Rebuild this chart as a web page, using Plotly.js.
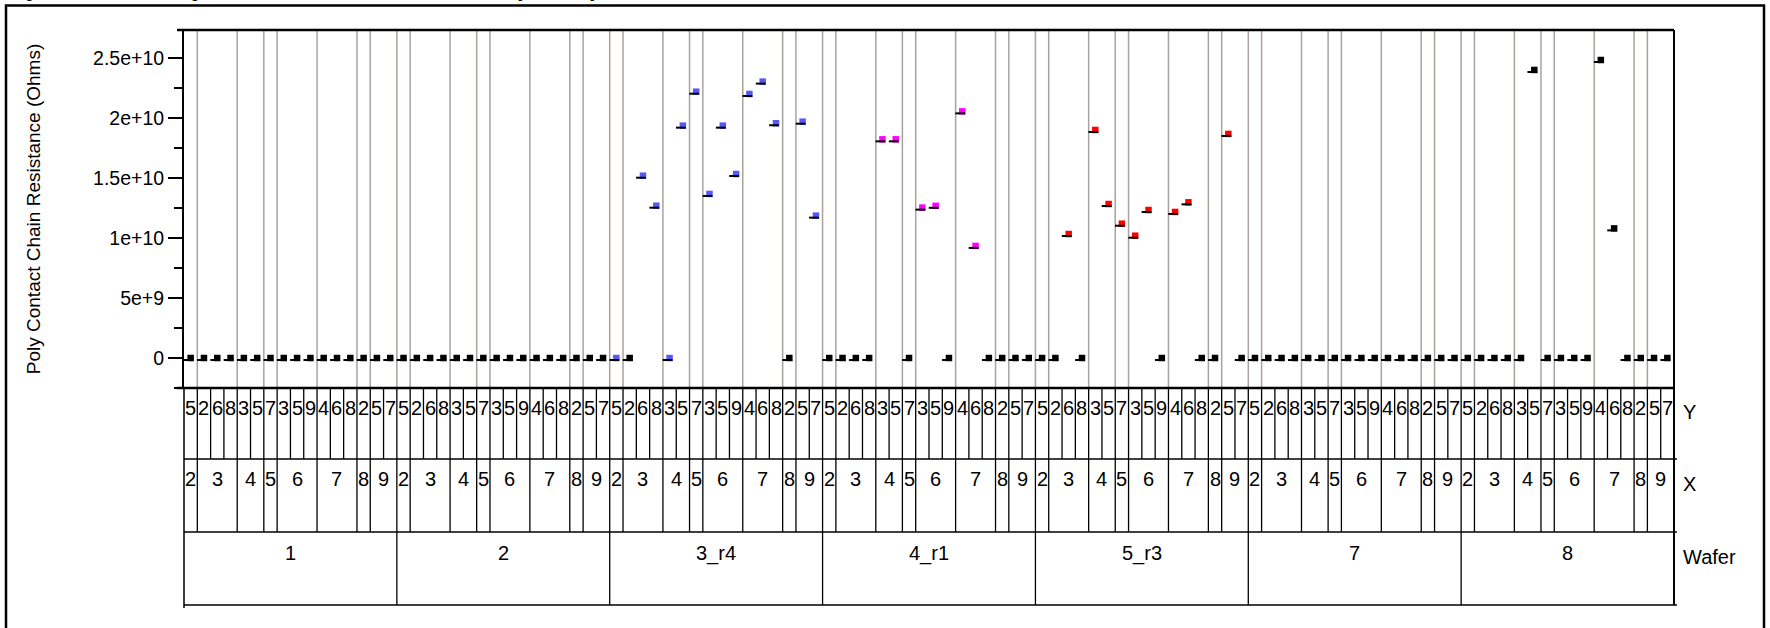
<!DOCTYPE html>
<html>
<head>
<meta charset="utf-8">
<script src="https://cdn.plot.ly/plotly-3.0.1.min.js"></script>
<style>
html,body{margin:0;padding:0;background:#fff;overflow:hidden}
#chart{width:1770px;height:628px}
</style>
</head>
<body>
<div id="chart"></div>
<script>
// ---------------- data ----------------
const chartTitle = 'Variability Chart for Poly Contact Chain Resistance (Ohms)';
const yTitle = 'Poly Contact Chain Resistance (Ohms)';
const wafers = ['1', '2', '3_r4', '4_r1', '5_r3', '7', '8'];
const xLevels = ['2', '3', '4', '5', '6', '7', '8', '9'];
const yLevelsByX = [['5'], ['2', '6', '8'], ['3', '5'], ['7'], ['3', '5', '9'], ['4', '6', '8'], ['2'], ['5', '7']];

// Poly Contact Chain Resistance (Ohms), one value per Wafer/X/Y cell (cells in X then Y order)
const res_w1   = [0, 0, 0, 0, 0, 0, 0, 0, 0, 0, 0, 0, 0, 0, 0, 0];
const res_w2   = [0, 0, 0, 0, 0, 0, 0, 0, 0, 0, 0, 0, 0, 0, 0, 0];
const res_w3r4 = [0, 0, 1.519e10, 1.269e10, 0, 1.936e10, 2.219e10, 1.367e10, 1.936e10, 1.533e10, 2.200e10, 2.303e10, 1.956e10, 0, 1.969e10, 1.186e10];
const res_w4r1 = [0, 0, 0, 0, 1.822e10, 1.822e10, 0, 1.253e10, 1.268e10, 0, 2.055e10, 0.934e10, 0, 0, 0, 0];
const res_w5r3 = [0, 0, 1.033e10, 0, 1.900e10, 1.283e10, 1.119e10, 1.019e10, 1.233e10, 0, 1.217e10, 1.297e10, 0, 0, 1.867e10, 0];
const res_w7   = [0, 0, 0, 0, 0, 0, 0, 0, 0, 0, 0, 0, 0, 0, 0, 0];
const res_w8   = [0, 0, 0, 0, 0, 2.400e10, 0, 0, 0, 0, 2.483e10, 1.080e10, 0, 0, 0, 0];

// condition of each row (drives the marker colour)
const cond_w1   = Array(16).fill('base');
const cond_w2   = Array(16).fill('base');
const cond_w3r4 = ['r4', 'base', 'r4', 'r4', 'r4', 'r4', 'r4', 'r4', 'r4', 'r4', 'r4', 'r4', 'r4', 'base', 'r4', 'r4'];
const cond_w4r1 = ['base', 'base', 'base', 'base', 'r1', 'r1', 'base', 'r1', 'r1', 'base', 'r1', 'r1', 'base', 'base', 'base', 'base'];
const cond_w5r3 = ['base', 'base', 'r3', 'base', 'r3', 'r3', 'r3', 'r3', 'r3', 'base', 'r3', 'r3', 'base', 'base', 'r3', 'base'];
const cond_w7   = Array(16).fill('base');
const cond_w8   = Array(16).fill('base');

const yTickVals = [0, 5e9, 1e10, 1.5e10, 2e10, 2.5e10];
const yTickText = ['0', '5e+9', '1e+10', '1.5e+10', '2e+10', '2.5e+10'];

// ---------------- styling ----------------
const condColor = {base: '#000000', r4: 'rgb(88,88,250)', r1: '#ff00ff', r3: '#ff0000'};
const FONT = '"Liberation Sans", Arial, Helvetica, sans-serif';
const L = 184, T = 30, W = 1490, H = 358;       // plot area in px
const px = v => (v - L) / W;                    // pixel -> paper x
const py = v => (T + H - v) / H;                // pixel -> paper y
const gray = '#a8a39f';

const resByWafer = [res_w1, res_w2, res_w3r4, res_w4r1, res_w5r3, res_w7, res_w8];
const condByWafer = [cond_w1, cond_w2, cond_w3r4, cond_w4r1, cond_w5r3, cond_w7, cond_w8];

// build nested cells
const cells = [];
const xGroups = [];      // {label, start, end}
const waferGroups = [];  // {label, start, end}
wafers.forEach((w, wi) => {
  const wStart = cells.length;
  xLevels.forEach((xl, xi) => {
    const gStart = cells.length;
    yLevelsByX[xi].forEach(yl => {
      const k = cells.length - wStart;
      cells.push({wafer: w, x: xl, y: yl, v: resByWafer[wi][k], c: condByWafer[wi][k]});
    });
    xGroups.push({label: xl, start: gStart, end: cells.length});
  });
  waferGroups.push({label: w, start: wStart, end: cells.length});
});
const N = cells.length;
const idx = cells.map((c, i) => i);

const traces = [
  {
    type: 'scatter', mode: 'markers', x: idx, y: cells.map(c => c.v),
    marker: {symbol: 'square', size: 6.5, color: cells.map(c => condColor[c.c]), line: {width: 0}},
    hoverinfo: 'x+y'
  },
  {
    type: 'scatter', mode: 'markers', x: idx, y: cells.map(c => c.v), xaxis: 'x2', yaxis: 'y2',
    marker: {symbol: 'line-ew', size: 7, color: '#000', line: {width: 2, color: '#000'}},
    hoverinfo: 'skip'
  }
];

const shapes = [];
const annotations = [];
const blk = (w) => ({color: '#000', width: w});

// gray reference lines at X group boundaries inside the plot
xGroups.forEach(g => {
  if (g.end < N) shapes.push({type: 'line', xref: 'x', yref: 'paper', x0: g.end - 0.5, x1: g.end - 0.5, y0: 0, y1: 1, line: {color: gray, width: 1.5}, layer: 'below'});
});
// Y row cells
for (let b = 1; b < N; b++) {
  shapes.push({type: 'line', xref: 'x', yref: 'paper', x0: b - 0.5, x1: b - 0.5, y0: py(388), y1: py(459), line: blk(1.3)});
}
// X row cells
xGroups.forEach(g => {
  if (g.end < N) shapes.push({type: 'line', xref: 'x', yref: 'paper', x0: g.end - 0.5, x1: g.end - 0.5, y0: py(459), y1: py(532), line: blk(1.3)});
});
// Wafer row cells
waferGroups.forEach(g => {
  if (g.end < N) shapes.push({type: 'line', xref: 'x', yref: 'paper', x0: g.end - 0.5, x1: g.end - 0.5, y0: py(532), y1: py(605), line: blk(1.3)});
});
// horizontal lines of the frame / table
shapes.push({type: 'line', xref: 'paper', yref: 'paper', x0: px(177), x1: 1, y0: 1, y1: 1, line: blk(2.5)});
shapes.push({type: 'line', xref: 'paper', yref: 'paper', x0: px(177), x1: 1, y0: 0, y1: 0, line: blk(2.5)});
[459, 532, 605].forEach(v => shapes.push({type: 'line', xref: 'paper', yref: 'paper', x0: 0, x1: px(1677), y0: py(v), y1: py(v), line: blk(1.5)}));
shapes.push({type: 'line', xref: 'paper', yref: 'paper', x0: 0, x1: 0, y0: 0, y1: py(608), line: blk(1.5)});
shapes.push({type: 'line', xref: 'paper', yref: 'paper', x0: 1, x1: 1, y0: 1, y1: py(605), line: blk(2)});
// outer report frame
shapes.push({type: 'rect', xref: 'paper', yref: 'paper', x0: px(6), x1: px(1764), y0: py(5.5), y1: py(700), line: blk(2.5), fillcolor: 'rgba(0,0,0,0)'});

// labels
cells.forEach((c, i) => annotations.push({xref: 'x', yref: 'paper', x: i, y: py(408), text: c.y, showarrow: false, xanchor: 'center', yanchor: 'middle', font: {family: FONT, size: 20, color: '#000'}}));
xGroups.forEach(g => annotations.push({xref: 'x', yref: 'paper', x: (g.start + g.end - 1) / 2, y: py(479), text: g.label, showarrow: false, xanchor: 'center', yanchor: 'middle', font: {family: FONT, size: 20, color: '#000'}}));
waferGroups.forEach(g => annotations.push({xref: 'x', yref: 'paper', x: (g.start + g.end - 1) / 2, y: py(553), text: g.label, showarrow: false, xanchor: 'center', yanchor: 'middle', font: {family: FONT, size: 20, color: '#000'}}));
[['Y', 412], ['X', 484], ['Wafer', 557]].forEach(([t, v]) => annotations.push({xref: 'paper', yref: 'paper', x: px(1681), y: py(v), text: t, showarrow: false, xanchor: 'left', yanchor: 'middle', font: {family: FONT, size: 20, color: '#000'}}));
// report title (scrolled above the visible area; only its descenders show)
annotations.push({xref: 'paper', yref: 'paper', x: px(-76), y: py(2.8), text: '<b>' + chartTitle + '</b>', showarrow: false, xanchor: 'left', yanchor: 'bottom', font: {family: FONT, size: 24, color: '#000'}});

const layout = {
  width: 1770, height: 628,
  margin: {l: L, r: 1770 - L - W, t: T, b: 628 - T - H, pad: 0},
  paper_bgcolor: '#fff', plot_bgcolor: '#fff',
  showlegend: false,
  font: {family: FONT, size: 19, color: '#000'},
  xaxis: {range: [-0.5, N - 0.5], showticklabels: false, ticks: '', showgrid: false, zeroline: false, showline: false, fixedrange: true},
  xaxis2: {overlaying: 'x', range: [-0.5 + 0.15, N - 0.5 + 0.15], visible: false, fixedrange: true},
  yaxis: {
    range: [-2.5e9, 27.33e9], tickmode: 'array', tickvals: yTickVals, ticktext: yTickText,
    ticks: 'outside', ticklen: 14, tickwidth: 2, tickcolor: '#000',
    minor: {tickmode: 'linear', tick0: 0, dtick: 2.5e9, ticks: 'outside', ticklen: 8, tickwidth: 2, tickcolor: '#000', showgrid: false},
    showline: true, linewidth: 2, linecolor: '#000', showgrid: false, zeroline: false,
    tickfont: {family: FONT, size: 19.5, color: '#000'},
    title: {text: yTitle, font: {family: FONT, size: 19, color: '#000'}, standoff: 47},
    automargin: false, fixedrange: true
  },
  yaxis2: {overlaying: 'y', range: [-2.5e9 + 0.167e9, 27.33e9 + 0.167e9], visible: false, fixedrange: true},
  shapes: shapes,
  annotations: annotations
};

Plotly.newPlot('chart', traces, layout, {displayModeBar: false, staticPlot: true});
</script>
</body>
</html>
